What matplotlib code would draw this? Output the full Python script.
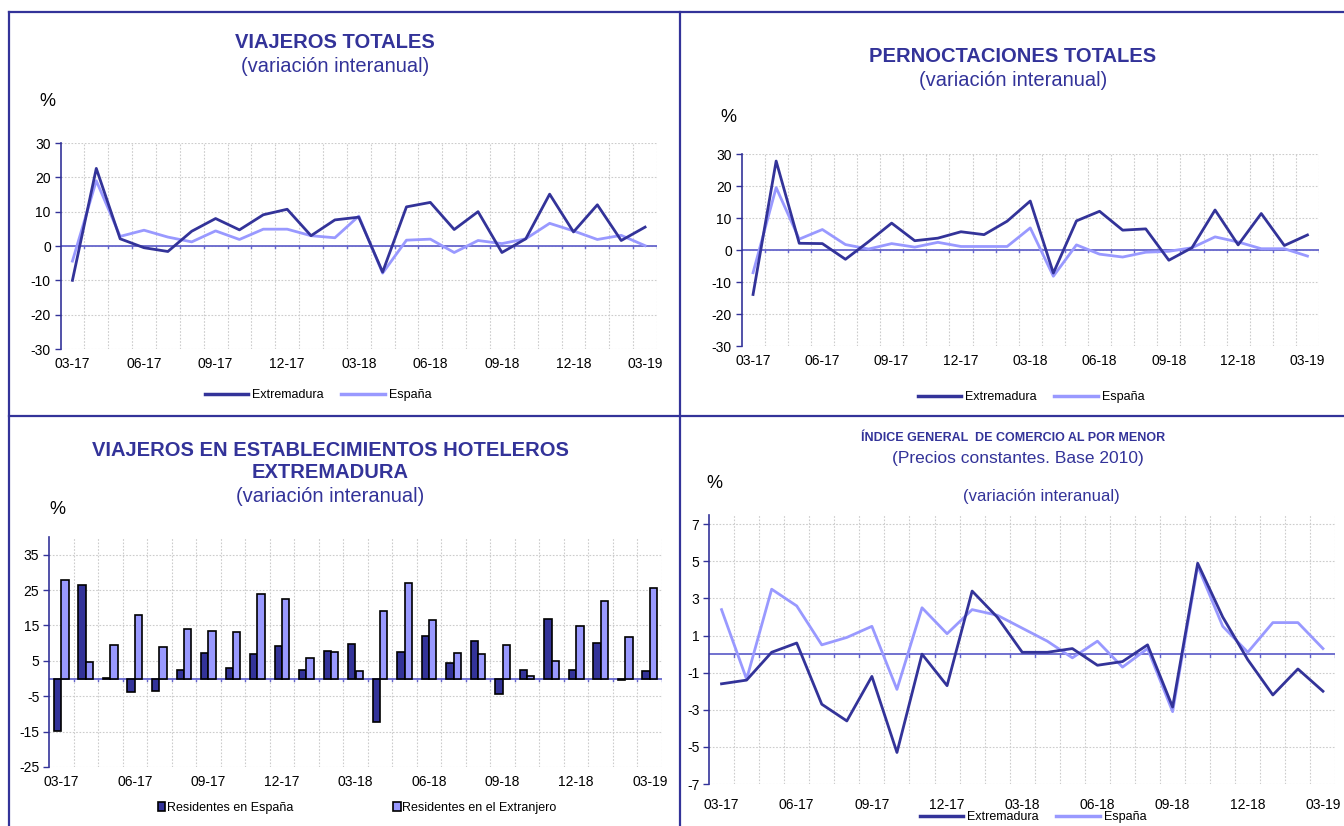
import matplotlib
matplotlib.use("Agg")
import matplotlib.pyplot as plt
import numpy as np
from matplotlib.lines import Line2D
from matplotlib.patches import Patch

plt.rcParams['font.family'] = ['Liberation Sans', 'DejaVu Sans']

# ---------------- data ----------------
months = ["03-17", "04-17", "05-17", "06-17", "07-17", "08-17", "09-17", "10-17", "11-17",
          "12-17", "01-18", "02-18", "03-18", "04-18", "05-18", "06-18", "07-18", "08-18",
          "09-18", "10-18", "11-18", "12-18", "01-19", "02-19", "03-19"]
shown_labels = ["03-17", "06-17", "09-17", "12-17", "03-18", "06-18", "09-18", "12-18", "03-19"]

viajeros_ext = [-10.0, 22.6, 2.1, -0.5, -1.6, 4.3, 8.0, 4.7, 9.1, 10.7, 3.0, 7.6, 8.4,
                -7.6, 11.4, 12.7, 4.8, 10.0, -1.9, 2.1, 15.1, 4.1, 12.0, 1.6, 5.5]
viajeros_esp = [-4.4, 19.0, 2.8, 4.6, 2.6, 1.2, 4.4, 1.9, 4.9, 4.9, 3.0, 2.4, 8.7,
                -7.9, 1.7, 2.0, -1.9, 1.6, 0.7, 2.1, 6.6, 4.4, 1.9, 3.1, 0.1]

pernoct_ext = [-13.9, 27.8, 2.1, 2.0, -2.9, 2.6, 8.4, 2.9, 3.7, 5.7, 4.8, 9.0, 15.3,
               -7.2, 9.1, 12.1, 6.2, 6.6, -3.2, 0.7, 12.5, 1.6, 11.4, 1.4, 4.7]
pernoct_esp = [-7.1, 19.5, 3.4, 6.4, 1.7, 0.3, 2.0, 0.9, 2.4, 1.1, 1.1, 1.1, 6.9,
               -8.2, 1.6, -1.3, -2.2, -0.7, -0.4, 0.7, 4.1, 2.5, 0.4, 0.4, -1.9]

hotel_res_esp = [-14.7, 26.3, 0.2, -3.9, -3.5, 2.3, 7.1, 3.1, 6.8, 9.1, 2.4, 7.8, 9.7,
                 -12.4, 7.5, 12.0, 4.3, 10.7, -4.3, 2.4, 16.9, 2.4, 10.1, -0.3, 2.0]
hotel_res_ext = [27.9, 4.6, 9.5, 17.9, 8.8, 13.9, 13.5, 13.1, 23.8, 22.6, 5.7, 7.4, 2.0,
                 19.2, 27.0, 16.5, 7.3, 6.8, 9.6, 0.6, 4.9, 14.9, 21.8, 11.8, 25.6]

comercio_ext = [-1.6, -1.4, 0.1, 0.6, -2.7, -3.6, -1.2, -5.3, 0.0, -1.7, 3.4, 2.0, 0.1,
                0.1, 0.3, -0.6, -0.4, 0.5, -2.85, 4.9, 2.0, -0.3, -2.2, -0.8, -2.0]
comercio_esp = [2.4, -1.35, 3.5, 2.6, 0.5, 0.9, 1.5, -1.9, 2.5, 1.1, 2.4, 2.1, 1.4,
                0.7, -0.2, 0.7, -0.7, 0.3, -3.1, 4.75, 1.5, 0.1, 1.7, 1.7, 0.3]

# ---------------- style ----------------
NAVY = "#333399"
LIGHT = "#9999FF"
ZERO = "#6666CC"
GRID = "#cccccc"
W, H = 1344, 826

fig = plt.figure(figsize=(W / 100, H / 100), dpi=100)


def rect(x0, x1, ytop, ybot):
    return [x0 / W, 1 - ybot / H, (x1 - x0) / W, (ybot - ytop) / H]


def fx(x):
    return x / W


def fy(y):
    return 1 - y / H


def style_axes(ax, ylim, yticks, n, xpad=6):
    ax.set_xlim(-0.5, n - 0.5)
    ax.set_ylim(*ylim)
    ax.set_yticks(yticks)
    ax.set_yticklabels([str(t) for t in yticks])
    ax.set_xticks([months.index(m) for m in shown_labels])
    ax.set_xticklabels(shown_labels)
    ax.tick_params(axis='x', length=0, labelsize=10, pad=xpad)
    ax.tick_params(axis='y', length=4, width=1, color=NAVY, labelsize=10, pad=3)
    for s in ['top', 'right', 'bottom']:
        ax.spines[s].set_visible(False)
    ax.spines['left'].set_color(NAVY)
    ax.spines['left'].set_linewidth(1.2)
    # vertical gridlines at category boundaries
    for b in np.arange(0.5, n - 0.5 + 0.01, 1.0):
        ax.axvline(b, color=GRID, lw=0.8, ls=(0, (1.5, 1.5)), zorder=0)
    for t in yticks:
        ax.axhline(t, color=GRID, lw=0.8, ls=(0, (1.5, 1.5)), zorder=0)
    ax.axhline(0, color=ZERO, lw=1.3, zorder=2)
    # little tick marks on zero line
    yr = ylim[1] - ylim[0]
    for b in np.arange(0.5, n - 0.5 + 0.01, 1.0):
        ax.plot([b, b], [0, -yr * 0.012], color=ZERO, lw=1, zorder=2)


x = np.arange(len(months))
n = len(months)

# ---------- Panel 1 ----------
ax1 = fig.add_axes(rect(60.5, 657, 143, 349))
style_axes(ax1, (-30, 30), [-30, -20, -10, 0, 10, 20, 30], n)
ax1.plot(x, viajeros_ext, color=NAVY, lw=2, zorder=4)
ax1.plot(x, viajeros_esp, color=LIGHT, lw=2, zorder=3)
fig.text(fx(335), fy(42), "VIAJEROS TOTALES", ha='center', va='center',
         fontsize=14.5, fontweight='bold', color=NAVY)
fig.text(fx(335), fy(66), "(variación interanual)", ha='center', va='center',
         fontsize=14.5, color=NAVY)
fig.text(fx(47), fy(102), "%", ha='center', va='center', fontsize=13)

# ---------- Panel 2 ----------
ax2 = fig.add_axes(rect(741.5, 1319, 154, 346))
style_axes(ax2, (-30, 30), [-30, -20, -10, 0, 10, 20, 30], n)
ax2.plot(x, pernoct_ext, color=NAVY, lw=2, zorder=4)
ax2.plot(x, pernoct_esp, color=LIGHT, lw=2, zorder=3)
fig.text(fx(1013), fy(57), "PERNOCTACIONES TOTALES", ha='center', va='center',
         fontsize=14.5, fontweight='bold', color=NAVY)
fig.text(fx(1013), fy(81), "(variación interanual)", ha='center', va='center',
         fontsize=14.5, color=NAVY)
fig.text(fx(728), fy(117), "%", ha='center', va='center', fontsize=13)

# ---------- Panel 3 ----------
ax3 = fig.add_axes(rect(49, 662, 537, 767))
style_axes(ax3, (-25, 40), [-25, -15, -5, 5, 15, 25, 35], n)
bw = 0.3
ax3.bar(x - bw / 2, hotel_res_esp, width=bw, color=NAVY, edgecolor='black', lw=1.2, zorder=4)
ax3.bar(x + bw / 2, hotel_res_ext, width=bw, color=LIGHT, edgecolor='black', lw=1.2, zorder=4)
fig.text(fx(330), fy(450), "VIAJEROS EN ESTABLECIMIENTOS HOTELEROS", ha='center', va='center',
         fontsize=14.5, fontweight='bold', color=NAVY)
fig.text(fx(330), fy(473), "EXTREMADURA", ha='center', va='center',
         fontsize=14.5, fontweight='bold', color=NAVY)
fig.text(fx(330), fy(496), "(variación interanual)", ha='center', va='center',
         fontsize=14.5, color=NAVY)
fig.text(fx(57), fy(509), "%", ha='center', va='center', fontsize=13)

# ---------- Panel 4 ----------
ax4 = fig.add_axes(rect(709, 1335.5, 515, 784))
style_axes(ax4, (-7, 7.5), [-7, -5, -3, -1, 1, 3, 5, 7], n, xpad=10)
ax4.plot(x, comercio_ext, color=NAVY, lw=2, zorder=4)
ax4.plot(x, comercio_esp, color=LIGHT, lw=2, zorder=3)
fig.text(fx(1013), fy(438), "ÍNDICE GENERAL  DE COMERCIO AL POR MENOR", ha='center', va='center',
         fontsize=9, fontweight='bold', color=NAVY)
fig.text(fx(1018), fy(459), "(Precios constantes. Base 2010)", ha='center', va='center',
         fontsize=12.5, color=NAVY)
fig.text(fx(1041), fy(496), "(variación interanual)", ha='center', va='center',
         fontsize=12, color=NAVY)
fig.text(fx(714), fy(483), "%", ha='center', va='center', fontsize=13)

# ---------- legends ----------
line_handles = [Line2D([], [], color=NAVY, lw=2.5), Line2D([], [], color=LIGHT, lw=2.5)]
line_labels = ["Extremadura", "España"]
for cx, cy in [(318, 395), (1031, 397), (1033, 817)]:
    fig.legend(line_handles, line_labels, loc='center', bbox_to_anchor=(fx(cx), fy(cy)),
               ncol=2, frameon=False, fontsize=9, handlelength=3.5, handletextpad=0.3,
               columnspacing=1.4, borderpad=0, borderaxespad=0)
bar_handles = [Patch(facecolor=NAVY, edgecolor='black', lw=1.2),
               Patch(facecolor=LIGHT, edgecolor='black', lw=1.2)]
fig.legend(bar_handles, ["Residentes en España", "Residentes en el Extranjero"], loc='center',
           bbox_to_anchor=(fx(357), fy(808)), ncol=2, frameon=False, fontsize=9,
           handlelength=0.6, handleheight=0.7, handletextpad=0.1, columnspacing=8.0,
           borderpad=0, borderaxespad=0)

# ---------- panel borders ----------
for (xa, ya, xb, yb) in [(9, 12, W, 12), (9, 12, 9, H), (680, 12, 680, H), (9, 416, W, 416)]:
    fig.add_artist(Line2D([fx(xa), fx(xb)], [fy(ya), fy(yb)], transform=fig.transFigure,
                          color=NAVY, lw=1.6))

fig.savefig("out.png", dpi=100)
